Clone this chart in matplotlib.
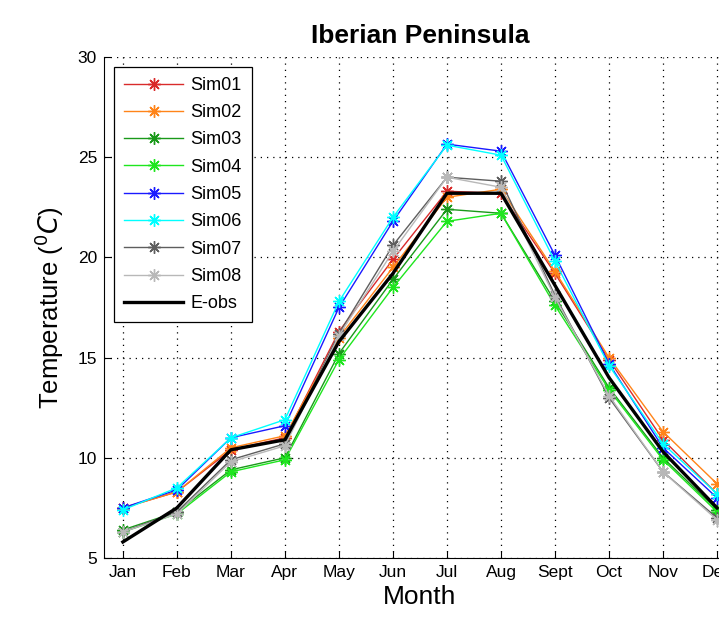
import numpy as np
import matplotlib as mpl
mpl.use("Agg")
import matplotlib.pyplot as plt

plt.rcParams['font.family'] = ['Liberation Sans', 'DejaVu Sans']

months = ['Jan', 'Feb', 'Mar', 'Apr', 'May', 'Jun', 'Jul', 'Aug', 'Sept', 'Oct', 'Nov', 'Dec']

sim01 = [7.5, 8.3, 10.4, 11.0, 16.3, 19.9, 23.3, 23.2, 19.2, 14.9, 10.9, 8.2]
sim02 = [7.5, 8.3, 10.5, 11.1, 16.0, 19.5, 23.0, 23.4, 19.3, 15.0, 11.3, 8.7]
sim03 = [6.4, 7.3, 9.4, 10.0, 15.2, 18.9, 22.4, 22.2, 17.8, 13.5, 10.0, 7.4]
sim04 = [6.3, 7.2, 9.3, 9.9, 14.9, 18.5, 21.8, 22.2, 17.6, 13.4, 9.9, 7.3]
sim05 = [7.5, 8.4, 11.0, 11.6, 17.5, 21.8, 25.65, 25.3, 20.1, 14.7, 10.5, 8.0]
sim06 = [7.4, 8.5, 11.0, 11.9, 17.8, 22.0, 25.6, 25.1, 19.8, 14.6, 10.7, 8.2]
sim07 = [6.3, 7.3, 9.9, 10.7, 16.2, 20.6, 24.0, 23.8, 18.1, 13.0, 9.3, 7.0]
sim08 = [6.3, 7.2, 9.8, 10.6, 16.1, 20.3, 24.0, 23.5, 18.0, 13.1, 9.3, 6.9]
eobs = [5.8, 7.5, 10.4, 10.9, 15.8, 19.2, 23.2, 23.2, 18.6, 14.0, 10.3, 7.5]

sims = [sim01, sim02, sim03, sim04, sim05, sim06, sim07, sim08]
names = ['Sim01', 'Sim02', 'Sim03', 'Sim04', 'Sim05', 'Sim06', 'Sim07', 'Sim08']
colors = ['#d92b2b', '#ff8419', '#1a991a', '#1ee61e', '#1a1aff', '#00ffff', '#5e5e5e', '#b8b8b8']

x = np.arange(1, 13)

fig = plt.figure(figsize=(7.19, 6.22), dpi=100)
ax = fig.add_axes([0.1446, 0.1029, 0.879, 0.8055])

# asterisk marker like matlab '*'
ast = (8, 2, 0)
for s, n, c in zip(sims, names, colors):
    ax.plot(x, s, color=c, lw=1.0, marker=ast, ms=9, mew=1.0, label=n)
ax.plot(x, eobs, color='black', lw=2.4, label='E-obs')

ax.set_xlim(0.65, 12.35)
ax.set_ylim(5, 30)
ax.set_xticks(x)
ax.set_xticklabels(months)
ax.set_yticks(np.arange(5, 31, 5))
ax.tick_params(direction='in', labelsize=12.5, length=5, width=0.8, pad=5)
ax.grid(True, linestyle=(0, (1, 4)), color='black', lw=0.9)
ax.spines['top'].set_visible(False)
ax.spines['right'].set_visible(False)

ax.set_title('Iberian Peninsula', fontsize=19, fontweight='bold', pad=10)
ax.set_xlabel('Month', fontsize=19, labelpad=4)
ax.set_ylabel(r'Temperature ($^0C$)', fontsize=18.5, labelpad=8)

leg = ax.legend(loc='upper left', fontsize=13, handlelength=3.3, handletextpad=0.4,
                labelspacing=0.57, borderpad=0.55, fancybox=False, framealpha=1,
                edgecolor='black', borderaxespad=0.55, bbox_to_anchor=(0.0, 1.0))
leg.get_frame().set_linewidth(0.9)

fig.savefig('out.png', dpi=100)
